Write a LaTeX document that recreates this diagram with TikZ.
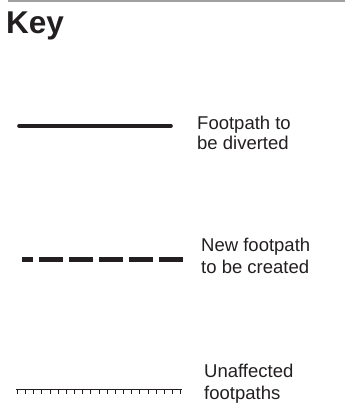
\documentclass[tikz,border=0pt]{standalone}
\usepackage{fontspec}
\setmainfont{Liberation Sans}
\definecolor{ink}{HTML}{231F20}
\definecolor{rule}{HTML}{A0A0A0}
\begin{document}
\begin{tikzpicture}[x=1pt,y=-1pt,
  lbl/.style={inner sep=0pt,anchor=base west,text=ink,font=\fontsize{18.5}{20}\selectfont},
  divline/.style={draw=ink,line width=3.6pt,line cap=round},
  newline/.style={draw=ink,line width=5.5pt,dash pattern=on 24pt off 6pt,dash phase=13pt},
  oldline/.style={draw=ink,line width=0.9pt}]
\useasboundingbox (0,0) rectangle (358,416);
\fill[white] (0,0) rectangle (358,416);
% top rule
\coordinate (r1) at (8,0.8);
\coordinate (r2) at (345,0.8);
\draw[rule,line width=1.6pt] (r1) -- (r2);
\node (key) [inner sep=0pt,anchor=base west,text=ink,font=\fontsize{31.5}{32}\selectfont\bfseries] at (6,33) {Key};
% solid
\coordinate (a1) at (19,126);
\coordinate (a2) at (171,126);
\draw[divline] (a1) -- (a2);
\node (t1a) [lbl] at (197,129.5) {Footpath to};
\node (t1b) [lbl] at (197,149.5) {be diverted};
% dashed
\coordinate (b1) at (22,259.5);
\coordinate (b2) at (183,259.5);
\draw[newline] (b1) -- (b2);
\node (t2a) [lbl] at (201,251.3) {New footpath};
\node (t2b) [lbl] at (201,273.3) {to be created};
% ticked
\coordinate (c1) at (16,389.3);
\coordinate (c2) at (182,389.3);
\draw[oldline] (c1) -- (c2);
\foreach \i in {0,...,20}{
  \pgfmathsetmacro{\tx}{17.3+\i*8.17}
  \draw[oldline] (\tx,389.3) -- ++(0,4.2);
}
\node (t3a) [lbl] at (204,377.3) {Unaffected};
\node (t3b) [lbl] at (204,399.3) {footpaths};
\end{tikzpicture}
\end{document}
